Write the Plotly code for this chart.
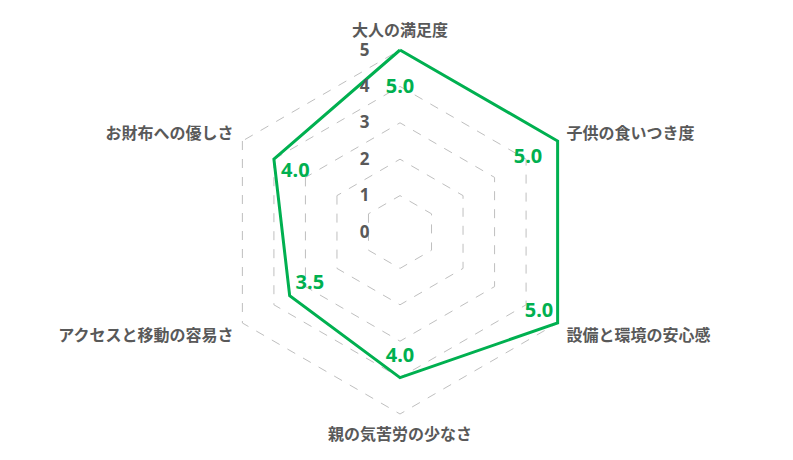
import plotly.graph_objects as go

categories = ["大人の満足度", "子供の食いつき度", "設備と環境の安心感",
              "親の気苦労の少なさ", "アクセスと移動の容易さ", "お財布への優しさ"]
values = [5.0, 5.0, 5.0, 4.0, 3.5, 4.0]
radial_ticks = [0, 1, 2, 3, 4, 5]

# style: label placement inward from each vertex (radial units)
label_inset = [1.04, 0.94, 0.59, 0.56, 0.64, 0.68]

GREEN = "#00B050"
GRAY_TXT = "#595959"

R_MAX = 5.1            # a little headroom so the outer line is not clipped
R_PX = 182 * R_MAX / 5  # pixel radius of the polar area
CX, CY = 400, 228       # centre (from left / from bottom), px

fig = go.Figure()
fig.add_trace(go.Scatterpolar(
    r=values + [values[0]],
    theta=categories + [categories[0]],
    mode="lines",
    line=dict(color=GREEN, width=3),
    cliponaxis=False,
    hoverinfo="skip",
    showlegend=False,
))

# value labels
fig.add_trace(go.Scatterpolar(
    r=[v - d for v, d in zip(values, label_inset)],
    theta=categories,
    mode="text",
    text=[f"{v:.1f}" for v in values],
    textposition="middle center",
    textfont=dict(family="Noto Sans", size=20, color=GREEN, weight="bold"),
    cliponaxis=False,
    showlegend=False,
    hoverinfo="skip",
))

fig.update_layout(
    width=793, height=460,
    margin=dict(l=0, r=0, t=0, b=0),
    paper_bgcolor="white",
    showlegend=False,
    polar=dict(
        domain=dict(x=[(CX - R_PX) / 793, (CX + R_PX) / 793],
                    y=[(CY - R_PX) / 460, (CY + R_PX) / 460]),
        bgcolor="white",
        gridshape="linear",
        radialaxis=dict(
            range=[0, R_MAX],
            tickvals=radial_ticks,
            ticktext=[str(t) for t in radial_ticks],
            angle=90,
            tickangle=90,
            side="counterclockwise",
            showline=False,
            ticks="outside",
            ticklen=24,
            tickcolor="rgba(0,0,0,0)",
            tickfont=dict(family="Noto Sans", size=17, color=GRAY_TXT, weight="bold"),
            gridcolor="#BFBFBF",
            griddash="dash",
            gridwidth=1,
        ),
        angularaxis=dict(
            categoryorder="array",
            categoryarray=categories,
            rotation=90,
            direction="clockwise",
            showgrid=False,
            showline=False,
            ticks="outside",
            ticklen=3,
            tickcolor="rgba(0,0,0,0)",
            tickfont=dict(family="Noto Sans CJK JP", size=16, color=GRAY_TXT, weight="bold"),
        ),
    ),
)

fig.write_html("out.html")
